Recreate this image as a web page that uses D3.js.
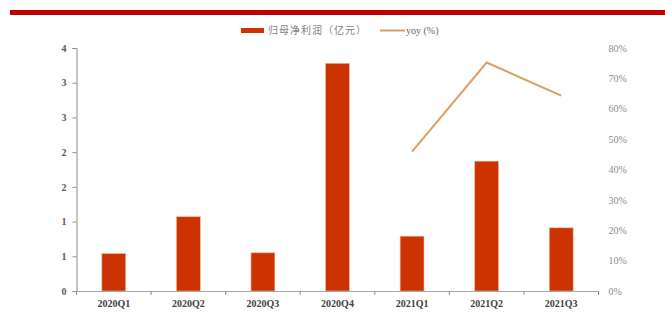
<!DOCTYPE html>
<html><head><meta charset="utf-8">
<script src="https://cdn.jsdelivr.net/npm/d3@7"></script>
<style>body{margin:0;background:#fff;} svg{display:block;}</style>
</head><body>
<script>
const categories = ["2020Q1","2020Q2","2020Q3","2020Q4","2021Q1","2021Q2","2021Q3"];
const profit = [0.54, 1.07, 0.55, 3.28, 0.79, 1.87, 0.91];
const yoy = [null, null, null, null, 45.9, 75.2, 64.3];
const leftTicks = [0, 0.5, 1, 1.5, 2, 2.5, 3, 3.5];
const leftTickLabels = ["0","1","1","2","2","3","3","4"];
const rightTicks = [0,10,20,30,40,50,60,70,80];
const seriesNames = ["归母净利润（亿元）","yoy (%)"];

const W = 665, H = 334;
const svg = d3.select("body").append("svg").attr("width", W).attr("height", H);
const serif = "'Liberation Serif','Times New Roman',serif";

// top red band
svg.append("rect").attr("x", 10).attr("y", 10).attr("width", W - 10).attr("height", 5).attr("fill", "#c00000");

const x0 = 76.5, x1 = 598.5, yBot = 291, yTop = 48;
const x = d3.scaleBand().domain(categories).range([x0, x1]).paddingInner(0.68).paddingOuter(0.34);
const xb = d3.scaleBand().domain(categories).range([x0, x1]);
const yL = d3.scaleLinear().domain([0, 3.5]).range([yBot, yTop]);
const yR = d3.scaleLinear().domain([0, 80]).range([yBot, yTop]);

// bars
svg.append("g").selectAll("rect").data(profit).join("rect")
  .attr("x", (d,i) => x(categories[i]))
  .attr("width", x.bandwidth())
  .attr("y", d => yL(d))
  .attr("height", d => yBot - yL(d))
  .attr("fill", "#cc3300")
  .attr("stroke", "#f2b8a6").attr("stroke-width", 0.6);

// left axis
const la = svg.append("g").attr("transform", `translate(${x0},0)`)
  .call(d3.axisLeft(yL).tickValues(leftTicks).tickSize(4).tickPadding(6)
    .tickFormat((d,i) => leftTickLabels[i]));
la.select(".domain").attr("stroke", "#8c8c8c");
la.selectAll(".tick line").attr("stroke", "#8c8c8c");
la.selectAll("text").attr("font-family", serif).attr("font-size", 10).attr("fill", "#595959").attr("font-weight", "bold");

// x axis
const xa = svg.append("g").attr("transform", `translate(0,${yBot})`)
  .call(d3.axisBottom(x).tickSize(0).tickPadding(9));
xa.select(".domain").attr("stroke", "#a6a6a6").attr("stroke-width", 1.2);
xa.selectAll("text").attr("font-family", serif).attr("font-size", 10).attr("fill", "#404040").attr("font-weight", "bold");
// boundary ticks
const bounds = categories.map(c => xb(c)).concat([x1]);
svg.append("g").selectAll("line").data(bounds).join("line")
  .attr("x1", d => d).attr("x2", d => d).attr("y1", yBot).attr("y2", yBot + 4)
  .attr("stroke", "#8c8c8c");

// right axis labels
const ra = svg.append("g").attr("transform", `translate(${x1},0)`)
  .call(d3.axisRight(yR).tickValues(rightTicks).tickSize(0).tickPadding(10).tickFormat(d => d + "%"));
ra.select(".domain").remove();
ra.selectAll("text").attr("font-family", serif).attr("font-size", 10).attr("fill", "#8c8c8c");

// yoy line
const line = d3.line().defined(d => d != null)
  .x((d,i) => xb(categories[i]) + xb.bandwidth()/2)
  .y(d => yR(d));
svg.append("path").datum(yoy).attr("d", line).attr("fill", "none")
  .attr("stroke", "#d9a066").attr("stroke-width", 2);

// legend
svg.append("rect").attr("x", 241).attr("y", 28).attr("width", 23).attr("height", 5).attr("fill", "#cc3300");
svg.append("text").attr("x", 268).attr("y", 34).text(seriesNames[0])
  .attr("font-family", "'Noto Sans CJK SC',sans-serif").attr("font-size", 10)
  .attr("letter-spacing", 1).attr("fill", "#7f7f7f");
svg.append("line").attr("x1", 380).attr("x2", 405).attr("y1", 30.5).attr("y2", 30.5)
  .attr("stroke", "#d9a066").attr("stroke-width", 2);
svg.append("text").attr("x", 406).attr("y", 34).text(seriesNames[1])
  .attr("font-family", serif).attr("font-size", 10).attr("fill", "#666666");
</script>
</body></html>
